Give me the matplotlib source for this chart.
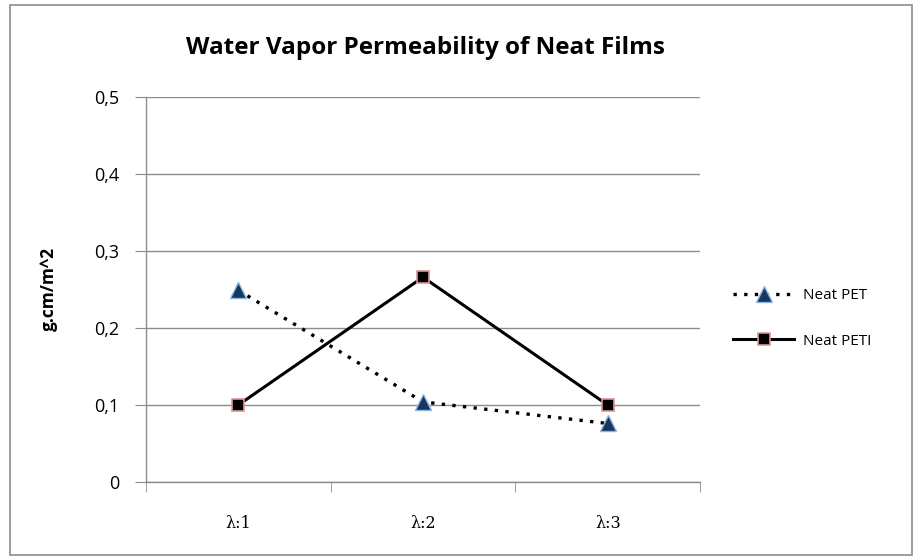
import matplotlib.pyplot as plt
from matplotlib.patches import Rectangle

categories = ["λ:1", "λ:2", "λ:3"]
neat_pet = [0.249, 0.104, 0.076]
neat_peti = [0.100, 0.266, 0.100]
yticks = [0, 0.1, 0.2, 0.3, 0.4, 0.5]
ytick_labels = ["0", "0,1", "0,2", "0,3", "0,4", "0,5"]

plt.rcParams["font.family"] = ["Open Sans", "DejaVu Sans"]

fig = plt.figure(figsize=(9.17, 5.6), dpi=100)
ax = fig.add_axes([0.1592, 0.1393, 0.6042, 0.6875])

# figure border
fig.patches.append(Rectangle((10 / 917, 5 / 560), 902 / 917, 550 / 560,
                             transform=fig.transFigure, fill=False,
                             edgecolor="#8c8c8c", linewidth=1.2))

x = list(range(len(categories)))
ax.plot(x, neat_pet, color="black", linestyle=(0, (1, 2.2)), linewidth=2.4,
        marker="^", markersize=11, markerfacecolor="#17375e",
        markeredgecolor="#8eb4e3", markeredgewidth=1, label="Neat PET", zorder=3)
ax.plot(x, neat_peti, color="black", linestyle="-", linewidth=2.2,
        marker="s", markersize=9, markerfacecolor="black",
        markeredgecolor="#d99694", markeredgewidth=1.2, label="Neat PETI", zorder=3)

ax.set_xlim(-0.5, 2.5)
ax.set_ylim(0, 0.5)
ax.set_yticks(yticks)
ax.set_yticklabels(ytick_labels)
ax.set_xticks(x)
ax.set_xticklabels(categories, family=["DejaVu Serif"], fontsize=11.5)
ax.set_xticks([-0.5, 0.5, 1.5, 2.5], minor=True)
ax.tick_params(axis="x", which="major", length=0, pad=24)
ax.tick_params(axis="x", which="minor", length=7, color="#8c8c8c", direction="out")
ax.tick_params(axis="y", length=8, color="#8c8c8c", direction="out", pad=11, labelsize=13)

ax.grid(axis="y", color="#8c8c8c", linewidth=1)
ax.set_axisbelow(True)
for side in ("top", "right"):
    ax.spines[side].set_visible(False)
for side in ("left", "bottom"):
    ax.spines[side].set_color("#8c8c8c")
    ax.spines[side].set_linewidth(1)

ax.set_ylabel("g.cm/m^2", fontsize=12.5, fontweight="bold", labelpad=26)
fig.text(0.464, 0.914, "Water Vapor Permeability of Neat Films", ha="center",
         va="center", fontsize=17.5, fontweight="bold")

ax.legend(loc="center left", bbox_to_anchor=(1.035, 0.425), frameon=False,
          fontsize=11, handlelength=4.0, labelspacing=2.0, handletextpad=0.6)

fig.savefig("out.png", dpi=100)
